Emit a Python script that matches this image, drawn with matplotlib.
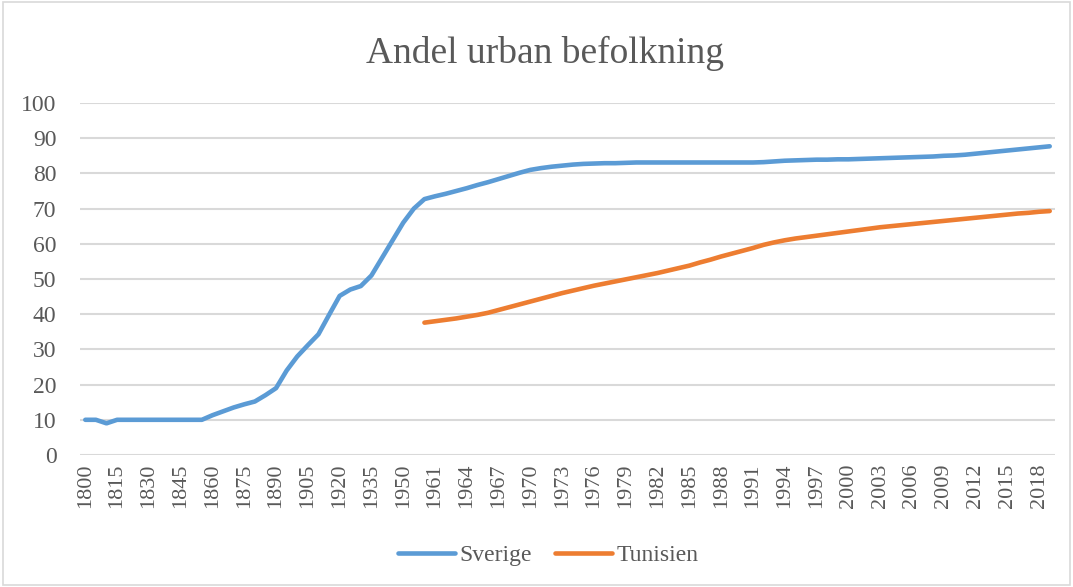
import numpy as np
import matplotlib.pyplot as plt
from matplotlib.patches import Rectangle

plt.rcParams['font.family'] = ['Liberation Serif', 'DejaVu Serif']

# categories: every 5th year up to 1960, then yearly
years = list(range(1800, 1961, 5)) + list(range(1961, 2020))

sverige = [10, 10, 9, 10, 10, 10, 10, 10, 10, 10, 10, 10,
           11.3, 12.4, 13.5, 14.4, 15.2, 17, 19,
           24, 28, 31.2, 34.3, 39.8, 45.2, 47, 48, 51, 56, 61, 66, 70, 72.7,
           # 1961-2019
           73.5, 74.2, 75.0, 75.8, 76.7, 77.5, 78.4, 79.3, 80.2, 81.0,
           81.5, 81.9, 82.2, 82.5, 82.7, 82.8, 82.9, 82.9, 83.0, 83.1,
           83.1, 83.1, 83.1, 83.1, 83.1, 83.1, 83.1, 83.1, 83.1, 83.1,
           83.1, 83.2, 83.4, 83.6, 83.7, 83.8, 83.9, 83.9, 84.0, 84.0,
           84.1, 84.2, 84.3, 84.4, 84.5, 84.6, 84.7, 84.8, 85.0, 85.1,
           85.3, 85.6, 85.9, 86.2, 86.5, 86.8, 87.1, 87.4, 87.7]

# Tunisia from 1960
tunisien = [np.nan] * 32 + [
    37.6, 38.0, 38.4, 38.8, 39.3, 39.8, 40.4, 41.2, 42.0, 42.8,
    43.6, 44.4, 45.2, 46.0, 46.7, 47.4, 48.1, 48.7, 49.3, 49.9,
    50.5, 51.1, 51.7, 52.4, 53.1, 53.8, 54.7, 55.5, 56.4, 57.2,
    58.0, 58.8, 59.7, 60.4, 61.0, 61.5, 61.9, 62.3, 62.7, 63.1,
    63.5, 63.9, 64.3, 64.7, 65.0, 65.3, 65.6, 65.9, 66.2, 66.5,
    66.8, 67.1, 67.4, 67.7, 68.0, 68.3, 68.6, 68.8, 69.1, 69.3]

txt = '#595959'
grid = '#D9D9D9'

fig = plt.figure(figsize=(10.73, 5.87), dpi=100)
fig.patches.append(Rectangle((0.003, 0.003), 0.994, 0.994, transform=fig.transFigure,
                             fill=False, edgecolor=grid, linewidth=1.2))
ax = fig.add_axes([80 / 1073, 132 / 587, 975 / 1073, 352 / 587])

x = np.arange(len(years))
ax.plot(x, sverige, color='#5B9BD5', linewidth=3.3, solid_capstyle='round', label='Sverige')
ax.plot(x, tunisien, color='#ED7D31', linewidth=3.3, solid_capstyle='round', label='Tunisien')

ax.set_xlim(-0.5, len(years) - 0.5)
ax.set_ylim(0, 100)
ax.set_yticks(range(0, 101, 10))
ax.yaxis.grid(True, color=grid, linewidth=1.5)
ax.set_axisbelow(True)
for s in ax.spines.values():
    s.set_visible(False)

ax.set_xticks(x[::3])
ax.set_xticklabels([str(y) for y in years[::3]], rotation=90)
ax.tick_params(axis='x', length=0, labelsize=16, labelcolor=txt, pad=6)
ax.tick_params(axis='y', length=0, labelsize=17, labelcolor=txt, pad=17)

fig.text(0.508, 1 - 63 / 587, 'Andel urban befolkning', ha='center', va='baseline',
         fontsize=27, color=txt)

fig.legend(loc='center', bbox_to_anchor=(0.511, 0.054), ncol=2, frameon=False,
           fontsize=17, labelcolor=txt, handlelength=2.4, columnspacing=1.0,
           handletextpad=0.2)

fig.savefig('out.png', dpi=100)
